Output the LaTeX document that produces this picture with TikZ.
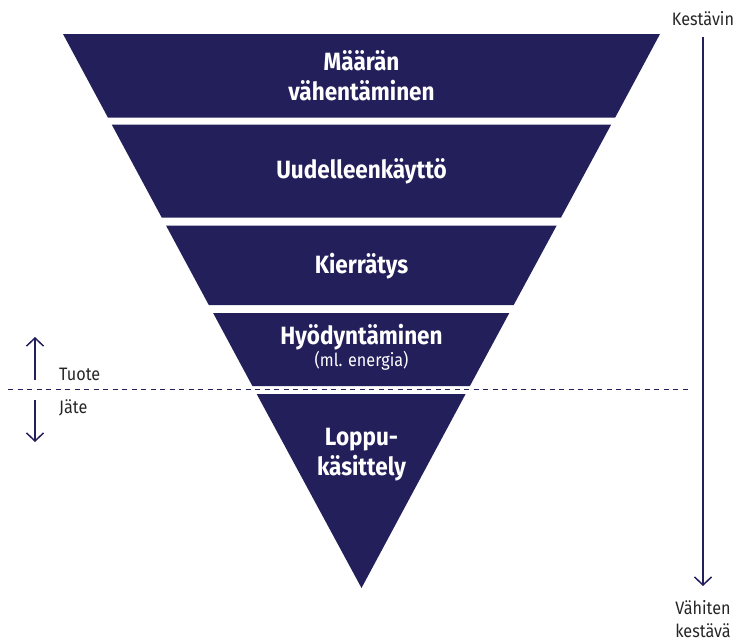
\documentclass[tikz,border=0pt]{standalone}
\usepackage{fontspec}
\setmainfont{Fira Sans}[FakeStretch=0.90]
\usetikzlibrary{arrows.meta}
\definecolor{navy}{RGB}{34,31,91}
\tikzset{
  layer/.style={fill=navy,draw=none},
  lbl/.style={text=white,font=\bfseries\fontsize{25}{30}\selectfont,inner sep=0pt,anchor=base},
  sublbl/.style={text=white,font=\fontsize{18}{20}\selectfont,inner sep=0pt,anchor=base},
  side/.style={text=black!85,font=\fontsize{18}{23}\selectfont,inner sep=0pt,anchor=base},
  arr/.style={draw=navy,line width=1.5pt,-{Straight Barb[length=8pt,width=17pt,line width=1.5pt]}},
}
\begin{document}
\begin{tikzpicture}[x=1pt,y=-1pt]
\useasboundingbox (0,0) rectangle (735,643);
% layers
\fill[layer] (63,34) -- (660,34) -- (615.2,117.5) -- (107.9,117.5) -- cycle;
\fill[layer] (111.7,124.5) -- (611.2,124.5) -- (561,217.5) -- (161.7,217.5) -- cycle;
\fill[layer] (166,225.5) -- (556.7,225.5) -- (513.7,305) -- (208.8,305) -- cycle;
\fill[layer] (213.1,313) -- (509.3,313) -- (469.9,386) -- (252.4,386) -- cycle;
\fill[layer] (256.7,394) -- (465.6,394) -- (361.5,588) -- cycle;
% labels
\node[lbl] (l1a) at (361.5,70) {Määrän};
\node[lbl] (l1b) at (361.5,100) {vähentäminen};
\node[lbl] (l2) at (361.5,178) {Uudelleenkäyttö};
\node[lbl] (l3) at (361.5,273) {Kierrätys};
\node[lbl] (l4) at (361.5,344) {Hyödyntäminen};
\node[sublbl] (l4b) at (361.5,366) {(ml. energia)};
\node[lbl] (l5a) at (361.5,445) {Loppu-};
\node[lbl] (l5b) at (361.5,475) {käsittely};
% dashed divider
\coordinate (dl) at (8,389);
\coordinate (dr) at (688,389);
\draw[navy,line width=1pt,dash pattern=on 5pt off 4.5pt] (dl) -- (dr);
% right scale
\node[side] (kv) at (703,25) {Kestävin};
\node[side] (vk1) at (703,614) {Vähiten};
\node[side] (vk2) at (703,637) {kestävä};
\coordinate (rtop) at (703,37);
\coordinate (rbot) at (703,586);
\draw[arr] (rtop) -- (rbot);
% left arrows
\node[side,anchor=base west] (tu) at (59,380) {Tuote};
\node[side,anchor=base west] (ja) at (59,413) {Jäte};
\coordinate (u1) at (35,380);
\coordinate (u2) at (35,337);
\coordinate (d1) at (35,400);
\coordinate (d2) at (35,442);
\draw[arr] (u1) -- (u2);
\draw[arr] (d1) -- (d2);
\end{tikzpicture}
\end{document}
